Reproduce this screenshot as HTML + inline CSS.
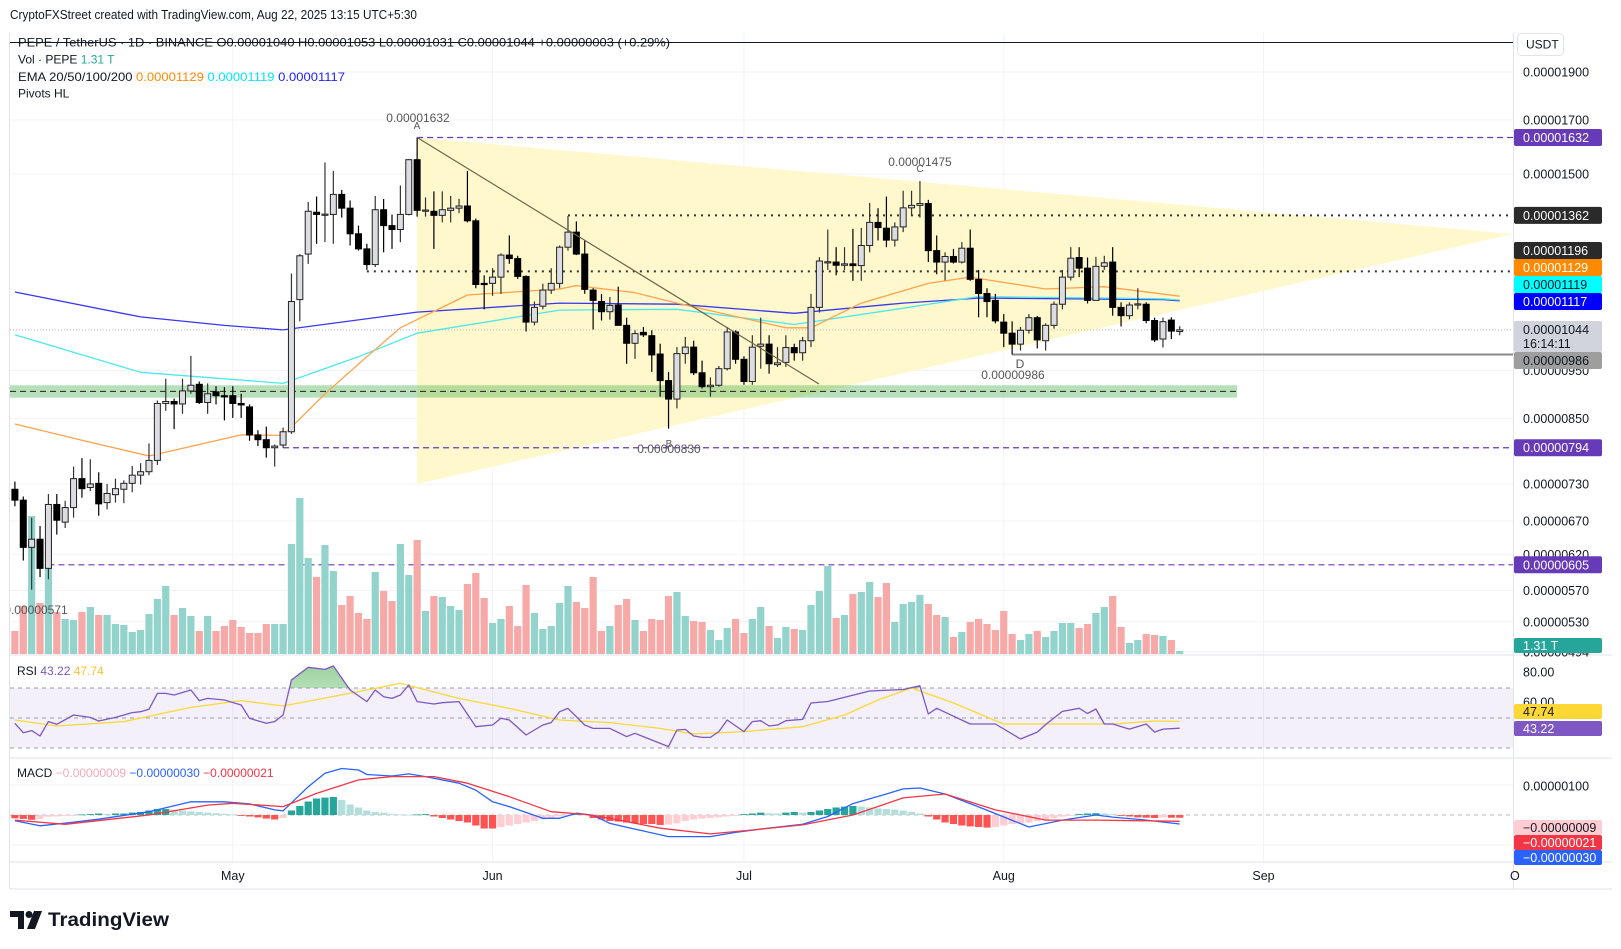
<!DOCTYPE html>
<html>
<head>
<meta charset="utf-8">
<style>
html,body{margin:0;padding:0;background:#fff;}
svg{display:block;font-family:"Liberation Sans",sans-serif;}
</style>
</head>
<body>
<svg id="chart" width="1621" height="949" viewBox="0 0 1621 949">
  <defs>
    <clipPath id="mainClip"><rect x="10" y="33" width="1503" height="621"/></clipPath>
    <clipPath id="obClip"><rect x="10" y="640" width="1503" height="48"/></clipPath>
    <linearGradient id="obGrad" x1="0" y1="0" x2="0" y2="1">
      <stop offset="0" stop-color="#4caf50" stop-opacity="0.55"/>
      <stop offset="1" stop-color="#4caf50" stop-opacity="0.05"/>
    </linearGradient>
  </defs>
  <rect x="0" y="0" width="1621" height="949" fill="#ffffff"/>
  <g id="grid"></g>
  <g id="overlays" clip-path="url(#mainClip)"></g>
  <g id="volume" clip-path="url(#mainClip)"></g>
  <g id="emas" clip-path="url(#mainClip)"></g>
  <g id="candles" clip-path="url(#mainClip)"></g>
  <g id="topdraw"></g>
  <g id="rsi"></g>
  <g id="macd"></g>

  <!-- frame & separators -->
  <line x1="9.5" y1="33" x2="9.5" y2="889" stroke="#e0e3eb"/>
  <line x1="1513.5" y1="33" x2="1513.5" y2="889" stroke="#e0e3eb"/>
  <line x1="10" y1="655" x2="1612" y2="655" stroke="#e0e3eb"/>
  <line x1="10" y1="758" x2="1612" y2="758" stroke="#e0e3eb"/>
  <line x1="10" y1="862" x2="1612" y2="862" stroke="#e0e3eb"/>
  <line x1="10" y1="889" x2="1612" y2="889" stroke="#e0e3eb"/>
  <line x1="10" y1="42.5" x2="1513" y2="42.5" stroke="#131722" stroke-width="1"/>

  <!-- header -->
  <text x="10" y="19" font-size="12.5" fill="#131722" textLength="407" lengthAdjust="spacingAndGlyphs">CryptoFXStreet created with TradingView.com, Aug 22, 2025 13:15 UTC+5:30</text>
  <text x="18" y="46.5" font-size="12" fill="#131722" textLength="652" lengthAdjust="spacingAndGlyphs">PEPE / TetherUS · 1D · BINANCE  O0.00001040  H0.00001053  L0.00001031  C0.00001044  +0.00000003 (+0.29%)</text>
  <text x="18" y="63.5" font-size="12" fill="#131722">Vol · PEPE <tspan fill="#26a69a">1.31 T</tspan></text>
  <text x="18" y="81" font-size="12" fill="#131722" textLength="327" lengthAdjust="spacingAndGlyphs">EMA 20/50/100/200  <tspan fill="#ff8a00">0.00001129</tspan>  <tspan fill="#00e5ff">0.00001119</tspan>  <tspan fill="#1e1eff">0.00001117</tspan></text>
  <text x="18" y="97.5" font-size="12" fill="#131722">Pivots HL</text>
  <text x="17" y="675" font-size="12" fill="#131722">RSI <tspan fill="#7e57c2">43.22</tspan> <tspan fill="#fbc02d">47.74</tspan></text>
  <text x="17" y="777" font-size="12" fill="#131722">MACD <tspan fill="#f7a9b8">−0.00000009</tspan> <tspan fill="#2962ff">−0.00000030</tspan> <tspan fill="#f23645">−0.00000021</tspan></text>

  <!-- axis header -->
  <rect x="1517.5" y="33.5" width="46" height="22" rx="4" fill="#fff" stroke="#e0e3eb"/>
  <text x="1526" y="48.5" font-size="12" fill="#131722">USDT</text>
  <g id="axis"></g>
  <g id="taxis"></g>

  <!-- TradingView logo -->
  <g>
    <path d="M10 911 h14 v18 h-6 v-12 h-8 z" fill="#131722"/>
    <circle cx="29" cy="914.5" r="3.5" fill="#131722"/>
    <polygon points="34,911 42,911 35,929 27,929" fill="#131722"/>
    <text x="48" y="926" font-size="19.5" font-weight="bold" fill="#131722" textLength="121" lengthAdjust="spacingAndGlyphs">TradingView</text>
  </g>
</svg>
<script>
// ---------- DATA (prices in units of 1e-8 USDT; day 0 = 2025-04-05) ----------
const opens  = [721,703,630,642,600,696,668,691,739,724,731,699,712,721,731,745,751,771,880,884,879,906,920,882,904,896,896,880,873,818,809,794,799,824,1120,1245,1372,1365,1365,1430,1385,1305,1260,1215,1380,1330,1318,1365,1550,1378,1375,1362,1378,1385,1392,1345,1163,1163,1180,1242,1232,1182,1063,1103,1145,1163,1265,1310,1245,1145,1115,1089,1106,1055,1012,1038,1030,987,928,889,988,1003,945,915,918,954,1039,975,926,1005,1010,963,968,1002,990,1018,1100,1222,1222,1213,1217,1212,1270,1340,1322,1286,1326,1386,1394,1400,1255,1222,1238,1222,1262,1174,1136,1118,1063,1036,1010,1043,1074,1018,1055,1108,1180,1235,1205,1118,1210,1222,1100,1079,1108,1108,1067,1022,1068,1040];
const highs  = [734,709,675,662,713,713,702,760,775,773,750,730,739,736,761,766,802,886,932,890,932,983,926,922,916,914,916,900,878,827,834,800,832,1190,1245,1405,1423,1540,1510,1445,1410,1330,1275,1425,1415,1365,1460,1552,1632,1420,1440,1440,1425,1415,1510,1352,1185,1205,1247,1300,1240,1185,1115,1162,1205,1270,1360,1343,1285,1150,1135,1127,1154,1074,1043,1051,1043,1011,947,1003,1027,1018,972,935,960,1051,1043,982,1031,1074,1031,1003,1031,1011,1027,1135,1236,1318,1265,1265,1320,1323,1402,1385,1423,1340,1442,1442,1475,1412,1300,1250,1260,1280,1318,1200,1150,1135,1083,1065,1051,1083,1078,1060,1115,1200,1265,1265,1235,1237,1240,1265,1113,1113,1150,1113,1074,1074,1075,1053];
const lows   = [693,611,571,588,585,649,659,675,707,718,678,688,699,698,716,729,745,763,865,829,859,900,879,859,878,846,851,851,807,797,776,760,794,820,1065,1217,1275,1280,1275,1355,1270,1255,1200,1208,1250,1260,1280,1362,1358,1358,1260,1340,1340,1369,1340,1150,1095,1130,1135,1217,1175,1040,1055,1095,1135,1150,1255,1242,1135,1045,1067,1069,1055,965,976,1027,947,894,830,870,965,940,911,894,915,950,965,919,919,954,943,958,958,972,972,1003,1087,1200,1185,1200,1170,1170,1250,1285,1265,1267,1310,1360,1355,1222,1188,1171,1218,1218,1170,1075,1075,1060,1003,986,995,1035,1000,995,1047,1095,1171,1180,1110,1118,1200,1079,1052,1070,1095,1060,1015,1002,1022,1031];
const closes = [703,630,642,600,696,671,691,739,722,730,697,714,722,731,745,751,771,880,884,879,906,918,882,900,896,895,880,877,818,809,794,797,824,1115,1240,1375,1365,1366,1430,1385,1305,1260,1215,1380,1330,1318,1365,1550,1378,1379,1362,1380,1385,1392,1345,1160,1162,1180,1242,1232,1182,1063,1100,1145,1163,1265,1310,1245,1147,1118,1089,1105,1055,1012,1035,1032,985,928,889,988,1003,945,915,918,954,1039,975,926,1003,1010,965,967,1002,990,1018,1100,1225,1223,1213,1217,1212,1270,1340,1324,1286,1326,1386,1394,1400,1255,1222,1238,1222,1262,1174,1136,1115,1066,1036,1010,1043,1074,1020,1055,1108,1180,1233,1205,1118,1210,1220,1100,1079,1106,1109,1067,1020,1064,1041,1044];
const volumes = [23,48,138,51,90,42,35,34,42,47,39,39,30,29,22,24,40,55,68,39,46,38,23,38,23,28,34,27,21,21,30,30,30,110,156,96,77,109,83,49,58,41,35,82,63,53,110,79,114,43,58,57,48,44,70,81,56,31,35,48,28,69,41,25,28,51,68,52,46,77,
                 23,28,49,55,34,23,35,34,58,62,38,33,32,24,14,26,35,21,35,47,28,16,27,25,24,49,63,88,36,39,60,62,72,57,71,32,50,52,59,50,39,37,17,22,32,35,30,24,43,20,14,20,23,17,23,31,31,26,30,41,47,58,27,11,14,20,19,18,14,3];
// EMA samples: [day, price]
const ema50 = [[0,839],[8,808],[16,779],[27,818],[32,817],[37,900],[42,981],[46,1049],[54,1132],[65,1148],[67,1157],[74,1138],[79,1111],[92,1049],[95,1049],[101,1111],[109,1163],[114,1180],[123,1148],[130,1154],[139,1129]];
const ema100 = [[0,1032],[15,946],[32,922],[41,981],[48,1036],[65,1093],[79,1095],[93,1057],[106,1098],[115,1128],[137,1122],[139,1119]];
const ema200 = [[0,1140],[15,1076],[25,1055],[32,1044],[48,1088],[65,1111],[79,1108],[93,1085],[106,1111],[115,1124],[137,1120],[139,1117]];
// RSI samples
const rsiVals = [[0,46.5],[1,40.2],[2,41.6],[3,38],[4,47.6],[5,45.8],[7,52],[9,50.4],[10,48],[12,50.4],[14,53.6],[15,54.2],[16,55.8],[17,66.4],[18,66.4],[19,65.3],[21,68.7],[22,61.6],[23,63.1],[25,62],[27,58.7],[28,49.8],[30,46.5],[31,47.6],[32,52],[33,75.3],[35,83.8],[37,82.4],[38,84.7],[40,68.7],[42,60.9],[43,68.7],[44,64.2],[45,63.1],[46,65.3],[47,72],[48,60.9],[50,59.3],[51,60.2],[53,60.9],[55,44.2],[57,45.3],[58,49.8],[59,48.7],[61,38.7],[63,45.3],[64,46.9],[65,54.2],[66,56.4],[68,45.3],[69,43.1],[71,43.1],[73,37.6],[74,39.8],[76,35.3],[78,30.9],[79,42],[80,42.4],[81,38],[82,37.1],[83,37.1],[84,40.9],[85,48.7],[87,40.9],[88,47.6],[89,48.2],[90,44.7],[91,45.3],[92,48.2],[94,49.1],[95,60],[97,61],[102,68],[106,69],[108,71.5],[109,52.7],[110,56.5],[114,46],[117,46],[120,36],[122,40.6],[123,45.6],[125,54.4],[127,56.5],[128,53],[129,56],[130,46],[131,46],[133,42.6],[135,46],[136,40.6],[137,42.6],[139,43.22]];
const rsiMaVals = [[0,48.7],[5,44.7],[13,47.6],[21,57.1],[27,61.6],[32,58],[41,67.6],[46,73.1],[53,63.1],[59,56.4],[65,48.7],[71,46.9],[77,43.1],[81,39.3],[87,40.9],[94,44.2],[99,52],[103,62],[107,70],[112,60],[118,46],[125,46],[131,46],[136,48],[139,47.74]];
// MACD samples (units 1e-8)
const macdVals = [[0,-19],[3,-36],[6,-27],[10,-14],[16,11],[21,44],[25,44],[28,37],[31,17],[32,14],[35,94],[37,139],[39,155],[41,150],[42,135],[45,130],[47,137],[49,128],[53,106],[55,83],[57,44],[59,28],[63,-11],[65,-11],[67,6],[69,-1],[71,-28],[74,-47],[78,-72],[83,-72],[86,-58],[89,-47],[94,-31],[97,-5],[100,38],[104,70],[106,87],[108,90],[111,70],[115,27],[121,-40],[125,-17],[129,0],[131,-7],[135,-17],[139,-30]];
const signalVals = [[0,-17],[6,-31],[16,0],[23,33],[26,39],[32,28],[36,72],[41,117],[45,128],[50,128],[54,106],[59,61],[64,11],[68,2],[71,-11],[77,-44],[83,-63],[88,-50],[94,-33],[100,0],[106,57],[111,70],[117,17],[123,-17],[129,-17],[139,-21]];
const histVals = [-11,-13,-16,-13,-6,-5,-3,-2,2,3,5,4,5,5,8,10,15,20,20,18,15,12,10,8,6,4,2,-3,-5,-8,-12,-15,-10,15,30,45,55,58,60,50,35,25,15,10,8,3,2,1,2,3,-5,-10,-15,-20,-25,-35,-45,-45,-40,-35,-30,-25,-20,-15,-10,-5,-3,3,2,-10,-15,-20,-22,-25,-28,-30,-30,-33,-32,-28,-20,-15,-12,-10,-8,-5,-3,3,5,8,6,5,8,10,8,10,15,20,25,28,30,28,25,22,20,18,15,10,5,-5,-15,-25,-30,-35,-38,-40,-42,-40,-35,-30,-28,-25,-20,-15,-10,-5,-2,3,5,6,5,3,-3,-5,-8,-9,-10,-8,-9,-9];
const priceTicks = [1900,1700,1500,950,850,730,670,620,570,530,494];
const monthLabels = ['May','Jun','Jul','Aug','Sep','O'];
const monthDays = [26,57,87,118,149,179];
const pivotHigh = 1632, pivotLow = 794, pivotOld = 605, levelTop = 1362, levelMid = 1196, pivotD = 986, lastPrice = 1044;

// ---------- SCALES ----------
const NS = 'http://www.w3.org/2000/svg';
const X = i => 14.9 + 8.38 * i;
const Y = p => 137.5 + 430.6 * Math.log(1632 / p);
const YV = v => 654 - v;
const YR = v => 718 - 1.5 * (v - 50);
const YM = v => 815 - 0.3 * v;
function mk(tag, attrs, parent) {
  const el = document.createElementNS(NS, tag);
  for (const k in attrs) el.setAttribute(k, attrs[k]);
  parent.appendChild(el);
  return el;
}
const $ = id => document.getElementById(id);
const fmt = p => (p * 1e-8).toFixed(8);

// ---------- GRID ----------
const grid = $('grid');
priceTicks.forEach(p => {
  const g = mk('line', {x1: 10, x2: 1513, y1: Y(p), y2: Y(p), stroke: '#f3f3f5'}, grid);
  
  
});
monthDays.forEach(d => {
  if (X(d) > 1512) return;
  const g = mk('line', {x1: X(d), x2: X(d), y1: 33, y2: 862, stroke: '#f3f3f5'}, grid);
  
  
});
[100, -100].forEach(v => {
  const g = mk('line', {x1: 10, x2: 1513, y1: YM(v), y2: YM(v), stroke: '#f3f3f5'}, grid);
  
  
});

// ---------- OVERLAYS ----------
const ov = $('overlays');
const tri = mk('polygon', {points: `${X(48)},${Y(pivotHigh)} 1513,234 ${X(48)},484`, fill: '#fff8cc'}, ov);


const band = mk('rect', {x: 10, y: Y(918), width: 1227, height: Y(892) - Y(918), fill: '#4caf50', 'fill-opacity': 0.4}, ov);


const bandLine = mk('line', {x1: 10, x2: 1237, y1: Y(905), y2: Y(905), stroke: '#222', 'stroke-dasharray': '6 4'}, ov);


const l1 = mk('line', {x1: X(48), x2: 1513, y1: Y(pivotHigh), y2: Y(pivotHigh), stroke: '#673ab7', 'stroke-dasharray': '6 4', 'stroke-width': 1.2}, ov);


const l2 = mk('line', {x1: X(32), x2: 1513, y1: Y(pivotLow), y2: Y(pivotLow), stroke: '#673ab7', 'stroke-dasharray': '6 4', 'stroke-width': 1.2}, ov);


const l3 = mk('line', {x1: X(4), x2: 1513, y1: Y(pivotOld), y2: Y(pivotOld), stroke: '#673ab7', 'stroke-dasharray': '6 4', 'stroke-width': 1.2}, ov);


const d1 = mk('line', {x1: X(66), x2: 1513, y1: Y(levelTop), y2: Y(levelTop), stroke: '#333', 'stroke-dasharray': '2 5', 'stroke-width': 2}, ov);


const d2 = mk('line', {x1: X(42), x2: 1513, y1: Y(levelMid), y2: Y(levelMid), stroke: '#333', 'stroke-dasharray': '2 5', 'stroke-width': 2}, ov);


const gl = mk('line', {x1: X(119), x2: 1513, y1: Y(pivotD), y2: Y(pivotD), stroke: '#8a8a8a', 'stroke-width': 2}, ov);


const cp = mk('line', {x1: 10, x2: 1513, y1: Y(lastPrice), y2: Y(lastPrice), stroke: '#b8b8b8', 'stroke-dasharray': '1 2'}, ov);



// ---------- VOLUME ----------
const vg = $('volume');
volumes.forEach((v, i) => {
  const up = closes[i] >= opens[i];
  const r = mk('rect', {x: X(i) - 3.6, y: YV(v), width: 7.2, height: v, fill: up ? '#92d3cc' : '#f7a9a7'}, vg);
  
  
});

// ---------- EMAs ----------
function poly(pts, yfn, color, w, parent, name) {
  const el = mk('polyline', {points: pts.map(p => X(p[0]).toFixed(1) + ',' + yfn(p[1]).toFixed(1)).join(' '), fill: 'none', stroke: color, 'stroke-width': w, 'stroke-linejoin': 'round'}, parent);
  return el;
}
const eg = $('emas');
const e200 = poly(ema200, Y, '#3838ee', 1.3, eg);


const e100 = poly(ema100, Y, '#4de8ec', 1.3, eg);


const e50 = poly(ema50, Y, '#ffa24c', 1.3, eg);



// ---------- CANDLES ----------
const cg = $('candles');
closes.forEach((c, i) => {
  const o = opens[i], up = c >= o, x = X(i);
  const w = mk('line', {x1: x, x2: x, y1: Y(highs[i]), y2: Y(lows[i]), stroke: up ? '#333' : '#000', 'stroke-width': 1.2}, cg);
  
  
  const top = Y(Math.max(o, c)), h = Math.max(1.2, Math.abs(Y(o) - Y(c)));
  const b = mk('rect', {x: x - 3, y: top, width: 6, height: h, fill: up ? '#dcdde2' : '#000', stroke: up ? '#222' : '#000', 'stroke-width': 1}, cg);
  
  
});

// ---------- TOP DRAWINGS & PIVOT LABELS ----------
const td = $('topdraw');
const diag = mk('line', {x1: X(48), y1: Y(pivotHigh), x2: 819, y2: 384, stroke: '#6b6648', 'stroke-width': 1.2}, td);


function lbl(x, y, t, size, name) {
  const el = mk('text', {x: x, y: y, 'font-size': size, fill: '#555', 'text-anchor': 'middle'}, td);
  el.textContent = t;
  return el;
}
let t;
t = lbl(418, 122, '0.00001632', 12);  
t = lbl(417, 129, 'A', 10);  
t = lbl(920, 166, '0.00001475', 12);  
t = lbl(920, 172, 'C', 10);  
t = lbl(669, 447, 'B', 10);  
t = lbl(669, 453, '0.00000830', 12);  
t = lbl(1020, 368, 'D', 12);  
t = lbl(1013, 379, '0.00000986', 12);  
t = lbl(36, 614, '0.00000571', 12);  
t.setAttribute('clip-path', 'url(#mainClip)');

// ---------- RSI ----------
const rg = $('rsi');
const rb = mk('rect', {x: 10, y: YR(70), width: 1503, height: YR(30) - YR(70), fill: '#7e57c2', 'fill-opacity': 0.09}, rg);


[70, 50, 30].forEach(v => {
  const l = mk('line', {x1: 10, x2: 1513, y1: YR(v), y2: YR(v), stroke: '#9ea1a9', 'stroke-dasharray': '4 4'}, rg);
  
  
});
const obPath = 'M' + X(rsiVals[0][0]) + ',' + YR(70) + ' ' + rsiVals.map(p => 'L' + X(p[0]).toFixed(1) + ',' + YR(p[1]).toFixed(1)).join(' ') + ' L' + X(rsiVals[rsiVals.length - 1][0]) + ',' + YR(70) + ' Z';
const ob = mk('path', {d: obPath, fill: 'url(#obGrad)', 'clip-path': 'url(#obClip)'}, rg);


const rma = poly(rsiMaVals, YR, '#fdd835', 1.3, rg);


const rl = poly(rsiVals, YR, '#7e57c2', 1.3, rg);



// ---------- MACD ----------
const mg = $('macd');
const zl = mk('line', {x1: 10, x2: 1513, y1: YM(0), y2: YM(0), stroke: '#b8bbc2', 'stroke-dasharray': '4 4'}, mg);


histVals.forEach((v, i) => {
  const prev = i > 0 ? histVals[i - 1] : 0;
  let col;
  if (v >= 0) col = v >= prev ? '#26a69a' : '#b2dfdb';
  else col = v <= prev ? '#ff5252' : '#ffcdd2';
  const y0 = YM(0), y1 = YM(v);
  const r = mk('rect', {x: X(i) - 3.6, y: Math.min(y0, y1), width: 7.2, height: Math.max(0.8, Math.abs(y1 - y0)), fill: col}, mg);
  
  
});
const ml = poly(macdVals, YM, '#2962ff', 1.3, mg);


const sl = poly(signalVals, YM, '#f23645', 1.3, mg);



// ---------- PRICE AXIS ----------
const ax = $('axis');
priceTicks.forEach(p => {
  const el = mk('text', {x: 1523, y: Y(p) + 4.5, 'font-size': 12.5, fill: '#131722'}, ax);
  el.textContent = fmt(p);
  
  
});
[['80.00', 672], ['60.00', 702], ['0.00000100', 786]].forEach(a => {
  const el = mk('text', {x: 1523, y: a[1] + 4.5, 'font-size': 12.5, fill: '#131722'}, ax);
  el.textContent = a[0];
  
  
});
function box(y, h, bg, fg, txt, name, txt2) {
  const r = mk('rect', {x: 1514, y: y, width: 88, height: h, fill: bg, rx: 2}, ax);
  
  
  const el = mk('text', {x: 1523, y: y + (txt2 ? 13 : h / 2 + 4.5), 'font-size': 12.5, fill: fg}, ax);
  el.textContent = txt;
  
  
  if (txt2) {
    const e2 = mk('text', {x: 1523, y: y + 27, 'font-size': 12.5, fill: fg}, ax);
    e2.textContent = txt2;
    
    
  }
}
box(Y(pivotHigh) - 8.5, 17, '#673ab7', '#fff', fmt(pivotHigh), 'pivot-high-price-label');
box(Y(levelTop) - 8.5, 17, '#2a2a2a', '#fff', fmt(levelTop), 'resistance-price-label');
box(242, 17, '#2a2a2a', '#fff', '0.00001196', 'high-price-label');
box(259, 17, '#ff8a00', '#fff', '0.00001129', 'ema-50-price-label');
box(276, 17, '#00ffff', '#131722', '0.00001119', 'ema-100-price-label');
box(293, 17, '#0000ff', '#fff', '0.00001117', 'ema-200-price-label');
box(321, 31, '#d1d4dc', '#131722', fmt(lastPrice), 'last-price-label', '16:14:11');
box(352, 17, '#9e9e9e', '#131722', fmt(pivotD), 'pivot-d-price-label');
box(Y(pivotLow) - 8.5, 17, '#673ab7', '#fff', fmt(pivotLow), 'pivot-low-price-label');
box(Y(pivotOld) - 8.5, 17, '#673ab7', '#fff', fmt(pivotOld), 'old-pivot-price-label');
box(638, 15, '#26a69a', '#fff', '1.31 T', 'volume-value-label');
box(704, 15, '#fdd835', '#131722', '47.74', 'rsi-ma-value-label');
box(721, 15, '#7e57c2', '#fff', '43.22', 'rsi-value-label');
box(820, 15, '#ffcdd2', '#131722', '−0.00000009', 'histogram-value-label');
box(835, 15, '#f23645', '#fff', '−0.00000021', 'signal-value-label');
box(850, 15, '#2962ff', '#fff', '−0.00000030', 'macd-value-label');

// ---------- TIME AXIS ----------
const ta = $('taxis');
monthLabels.forEach((m, k) => {
  const el = mk('text', {x: X(monthDays[k]), y: 880, 'font-size': 12.5, fill: '#131722', 'text-anchor': 'middle'}, ta);
  el.textContent = m;
  
  
});
</script>
</body>
</html>
